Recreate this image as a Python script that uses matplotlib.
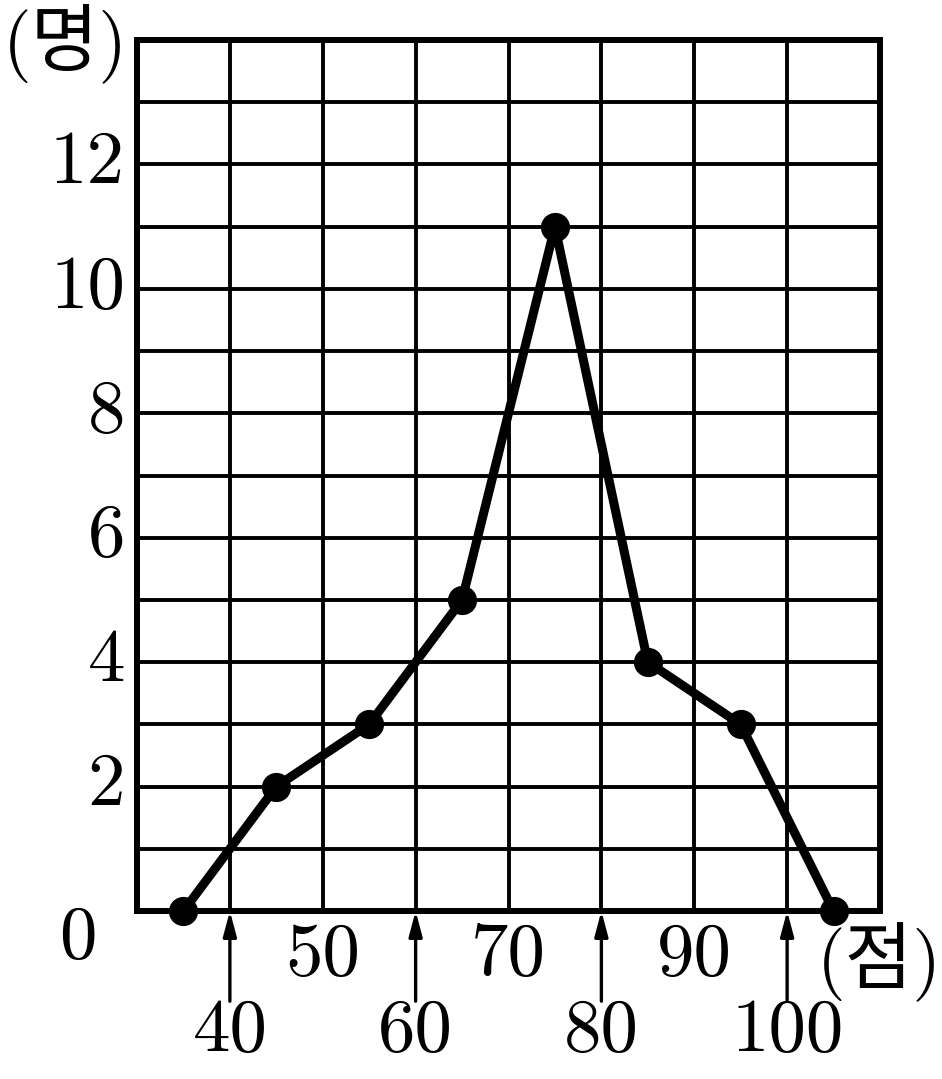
import numpy as np
import matplotlib
matplotlib.use("Agg")
import matplotlib.pyplot as plt

# 점수 계급의 중앙값과 도수(명)
jumsu = [35, 45, 55, 65, 75, 85, 95, 105]
dosu = [0, 2, 3, 5, 11, 4, 3, 0]
y_ticks = [0, 2, 4, 6, 8, 10, 12]
x_upper = [50, 70, 90]
x_lower = [40, 60, 80, 100]

fuente = ['cmr10', 'Noto Sans CJK KR']
plt.rcParams['font.family'] = fuente

fig = plt.figure(figsize=(9.42, 10.79), dpi=100)
ax = fig.add_axes([137/942, 1 - 911/1079, 743/942, 871/1079])

ax.set_xlim(30, 110)
ax.set_ylim(0, 14)

ax.set_xticks(np.arange(40, 110, 10))
ax.set_yticks(np.arange(1, 14, 1))
ax.grid(True, color='black', linewidth=2.8)
ax.tick_params(length=0, labelbottom=False, labelleft=False)
for s in ax.spines.values():
    s.set_linewidth(4.3)
    s.set_color('black')

ax.plot(jumsu, dosu, color='black', linewidth=6.5, marker='o', markersize=20,
        clip_on=False, zorder=5)

# etiquetas del eje y
for v in y_ticks:
    if v == 0:
        ax.text(25.6, -0.45, str(v), ha='right', va='center', fontsize=54)
    else:
        ax.text(28.7, v, str(v), ha='right', va='center', fontsize=54)

for v in x_upper:
    ax.text(v, -0.72, str(v), ha='center', va='center', fontsize=54)
for v in x_lower:
    ax.text(v, -1.95, str(v), ha='center', va='center', fontsize=54)
    ax.annotate('', xy=(v, 0), xytext=(v, -1.45), annotation_clip=False,
                arrowprops=dict(arrowstyle='-|>,head_length=1.5,head_width=0.4',
                                color='black', linewidth=2.4, shrinkA=0, shrinkB=0))

ax.text(22.3, 13.95, '(명)', ha='center', va='center', fontsize=53, family=fuente)
ax.text(109.9, -0.83, '(점)', ha='center', va='center', fontsize=53, family=fuente)

fig.savefig('out.png', dpi=100)
